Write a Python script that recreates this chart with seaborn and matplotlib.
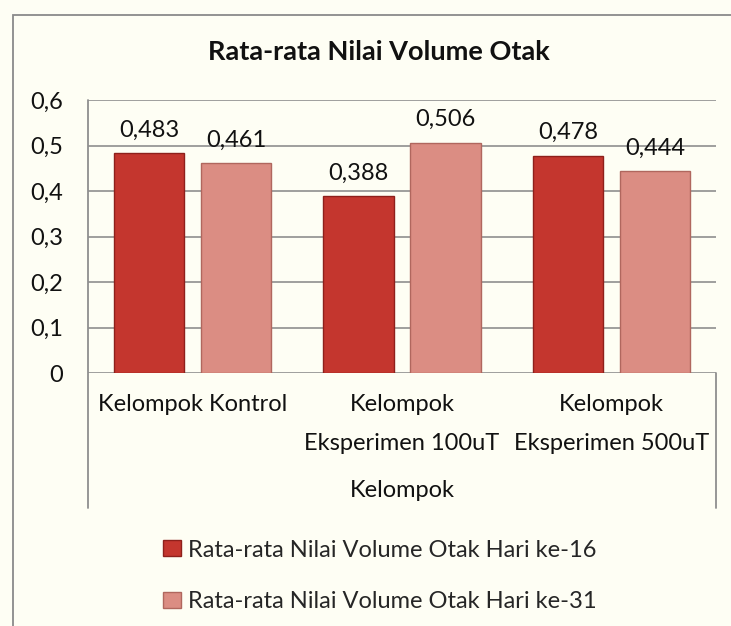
import pandas as pd
import numpy as np
import matplotlib.pyplot as plt
import matplotlib.patches as mpatches
import seaborn as sns

groups = ["Kelompok Kontrol", "Kelompok\nEksperimen 100uT", "Kelompok\nEksperimen 500uT"]
series = ["Rata-rata Nilai Volume Otak Hari ke-16", "Rata-rata Nilai Volume Otak Hari ke-31"]
hari16 = [0.483, 0.388, 0.478]
hari31 = [0.461, 0.506, 0.444]
yticks = [0, 0.1, 0.2, 0.3, 0.4, 0.5, 0.6]

colors = ['#C4362E', '#DB8D83']
edges = ['#8E201B', '#B0675E']
bg = '#FEFEF4'
fs = 17

sns.set_style("white")
plt.rcParams['font.family'] = ['Lato', 'DejaVu Sans']

df = pd.DataFrame({'Kelompok': groups * 2,
                   'Nilai': hari16 + hari31,
                   'Seri': [series[0]] * 3 + [series[1]] * 3})

fig = plt.figure(figsize=(7.31, 6.26), dpi=100, facecolor=bg)
ax = fig.add_axes([88/731, 1-373/626, (716-88)/731, (373-100)/626])
ax.set_facecolor(bg)

sns.barplot(data=df, x='Kelompok', y='Nilai', hue='Seri', palette=colors, saturation=1,
            width=0.83, gap=0.19, legend=False, ax=ax, zorder=3)
for cont, ec in zip(ax.containers, edges):
    for b in cont:
        b.set_edgecolor(ec)
        b.set_linewidth(1.0)
    ax.bar_label(cont, labels=[f"{v:.3f}".replace('.', ',') for v in cont.datavalues],
                 padding=9, fontsize=fs, color='#111111')

ax.set_xlim(-0.5, 2.5)
ax.set_ylim(0, 0.6)
ax.set_yticks(yticks)
ax.set_yticklabels([('%g' % t).replace('.', ',') for t in yticks])
ax.grid(axis='y', color='#8f8f8f', lw=1.2, zorder=0)
ax.set_axisbelow(True)
for s in ax.spines.values():
    s.set_visible(False)
ax.tick_params(axis='y', length=0, pad=18, labelsize=fs, labelcolor='#111111')
ax.tick_params(axis='x', length=0, pad=15, labelsize=fs, labelcolor='#111111')
for t in ax.get_xticklabels():
    t.set_linespacing(2.05)
ax.set_ylabel('')
ax.set_xlabel('Kelompok', fontsize=fs, color='#111111', labelpad=19)

ax.axvline(-0.5, ymin=-0.494, ymax=1, color='#8f8f8f', lw=1.3, clip_on=False)
ax.axvline(2.5, ymin=-0.494, ymax=0, color='#8f8f8f', lw=1.3, clip_on=False)

fig.text(379/731, 1-52/626, 'Rata-rata Nilai Volume Otak', ha='center', va='center',
         fontsize=19.5, fontweight='bold', color='#111111')

handles = [mpatches.Patch(facecolor=c, edgecolor=e, label=l) for c, e, l in zip(colors, edges, series)]
fig.legend(handles=handles, loc='center', bbox_to_anchor=(380/731, 1-576/626), frameon=False,
           fontsize=fs, handlelength=0.75, handleheight=0.65, handletextpad=0.3, labelspacing=1.3)

fig.patches.append(mpatches.Rectangle((13/731, -0.1), 2, 1.1 - 15/626, transform=fig.transFigure,
                                      fill=False, edgecolor='#8a8a8a', lw=1.3))

plt.savefig('out.png', dpi=100, facecolor=bg)
